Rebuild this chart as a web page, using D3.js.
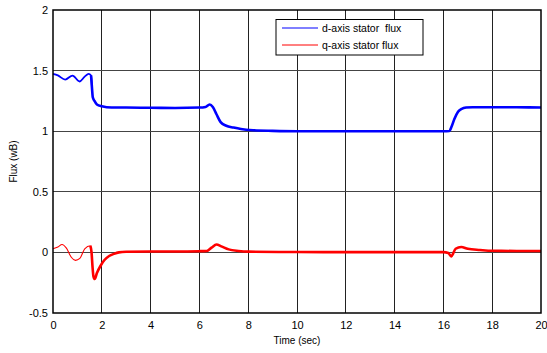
<!DOCTYPE html>
<html><head><meta charset="utf-8">
<script src="https://cdn.jsdelivr.net/npm/d3@7"></script>
<style>body{margin:0;background:#fff;} svg{display:block;}</style>
</head><body>
<svg id="c" width="547" height="353"></svg>
<script>
const xTicks = [0,2,4,6,8,10,12,14,16,18,20];
const yTicks = [-0.5,0,0.5,1,1.5,2];
const yTickLabels = ["-0.5","0","0.5","1","1.5","2"];
const dTime = [0,0.2,0.5,0.8,1.09,1.3,1.46,1.56,1.6,1.63,1.7,1.8,2.0,2.2,2.6,3,4,5,6,6.25,6.42,6.55,6.7,6.87,7.1,7.4,7.7,8.2,9,10,12,14,15,16,16.25,16.32,16.45,16.6,16.75,16.93,17.2,18,19,20];
const dFlux = [1.473,1.46,1.426,1.459,1.41,1.45,1.473,1.46,1.35,1.28,1.25,1.22,1.205,1.198,1.195,1.195,1.193,1.192,1.195,1.2,1.22,1.2,1.14,1.075,1.045,1.03,1.018,1.008,1.003,1.0,1.0,1.0,1.0,1.0,1.002,1.03,1.1,1.16,1.185,1.195,1.198,1.198,1.197,1.196];
const qTime = [0,0.2,0.37,0.55,0.75,0.92,1.1,1.3,1.53,1.58,1.62,1.66,1.71,1.8,1.95,2.1,2.3,2.5,2.7,3,4,5,6,6.3,6.5,6.7,6.9,7.2,7.6,8,10,12,14,16,16.2,16.32,16.5,16.73,17,17.5,18,19,20];
const qFlux = [0.03,0.045,0.065,0.035,-0.04,-0.066,-0.05,0.03,0.055,0.0,-0.12,-0.2,-0.22,-0.17,-0.11,-0.065,-0.03,-0.012,0.0,0.005,0.008,0.008,0.01,0.012,0.04,0.065,0.05,0.025,0.012,0.006,0.003,0.002,0.002,0.002,-0.005,-0.033,0.03,0.045,0.03,0.02,0.013,0.012,0.012];

const svg = d3.select("#c");
const L=53, R=541, T=10, B=313;
const x = d3.scaleLinear().domain([0,20]).range([L,R]);
const y = d3.scaleLinear().domain([-0.5,2]).range([B,T]);

// grid
svg.append("g").selectAll("line").data(xTicks.slice(1,-1)).join("line")
  .attr("x1",d=>x(d)).attr("x2",d=>x(d)).attr("y1",T).attr("y2",B)
  .attr("stroke","#222").attr("stroke-width",1).attr("shape-rendering","crispEdges");
svg.append("g").selectAll("line").data(yTicks.slice(1,-1)).join("line")
  .attr("x1",L).attr("x2",R).attr("y1",d=>y(d)).attr("y2",d=>y(d))
  .attr("stroke","#444").attr("stroke-width",1).attr("shape-rendering","crispEdges");

// lines: early transient drawn thin, noisy steady part drawn thick
const line = d3.line().x(d=>x(d[0])).y(d=>y(d[1])).curve(d3.curveMonotoneX);
function drawSeries(ts, vs, color, split, wThin, wThick){
  const pts = ts.map((t,i)=>[t,vs[i]]);
  const early = pts.filter(p=>p[0]<=split);
  const late = pts.filter(p=>p[0]>=split-0.05);
  svg.append("path").datum(late).attr("d",line).attr("fill","none")
    .attr("stroke",color).attr("stroke-width",wThick).attr("stroke-linejoin","round");
  svg.append("path").datum(early).attr("d",line).attr("fill","none")
    .attr("stroke",color).attr("stroke-width",wThin).attr("stroke-linejoin","round");
}
drawSeries(dTime,dFlux,"#0000ff",1.6,1.8,2.6);
drawSeries(qTime,qFlux,"#ff0000",1.58,1.1,2.6);

// axes
const font = "Liberation Sans, Arial, sans-serif";
const xa = svg.append("g").attr("transform",`translate(0,${B})`)
  .call(d3.axisBottom(x).tickValues(xTicks).tickSize(0).tickPadding(8).tickFormat(d3.format("d")));
xa.select(".domain").remove();
xa.selectAll("text").attr("font-family",font).attr("font-size",11).attr("fill","#000");
const ya = svg.append("g").attr("transform",`translate(${L},0)`)
  .call(d3.axisLeft(y).tickValues(yTicks).tickSize(0).tickPadding(5).tickFormat((d,i)=>yTickLabels[i]));
ya.select(".domain").remove();
ya.selectAll("text").attr("font-family",font).attr("font-size",11).attr("fill","#000");

// frame
svg.append("rect").attr("x",L).attr("y",T).attr("width",R-L).attr("height",B-T)
  .attr("fill","none").attr("stroke","#000").attr("stroke-width",1.5);

// labels
svg.append("text").attr("x",(L+R)/2).attr("y",344).attr("text-anchor","middle")
  .attr("font-family",font).attr("font-size",10).text("Time (sec)");
svg.append("text").attr("transform",`translate(17,${(T+B)/2}) rotate(-90)`).attr("text-anchor","middle")
  .attr("font-family",font).attr("font-size",10).text("Flux (wB)");

// legend
const lg = svg.append("g");
lg.append("rect").attr("x",276).attr("y",19.5).attr("width",147).attr("height",35.5)
  .attr("fill","#fff").attr("stroke","#000").attr("stroke-width",1);
const legItems = [["d-axis stator  flux","#0000ff"],["q-axis stator flux","#ff0000"]];
legItems.forEach((it,i)=>{
  const yy = 28 + i*17;
  lg.append("line").attr("x1",282).attr("x2",318).attr("y1",yy).attr("y2",yy).attr("stroke",it[1]).attr("stroke-width",1);
  lg.append("text").attr("x",322).attr("y",yy+4).attr("font-family",font).attr("font-size",10.5)
    .attr("xml:space","preserve").style("white-space","pre").text(it[0]);
});
</script>
</body></html>
